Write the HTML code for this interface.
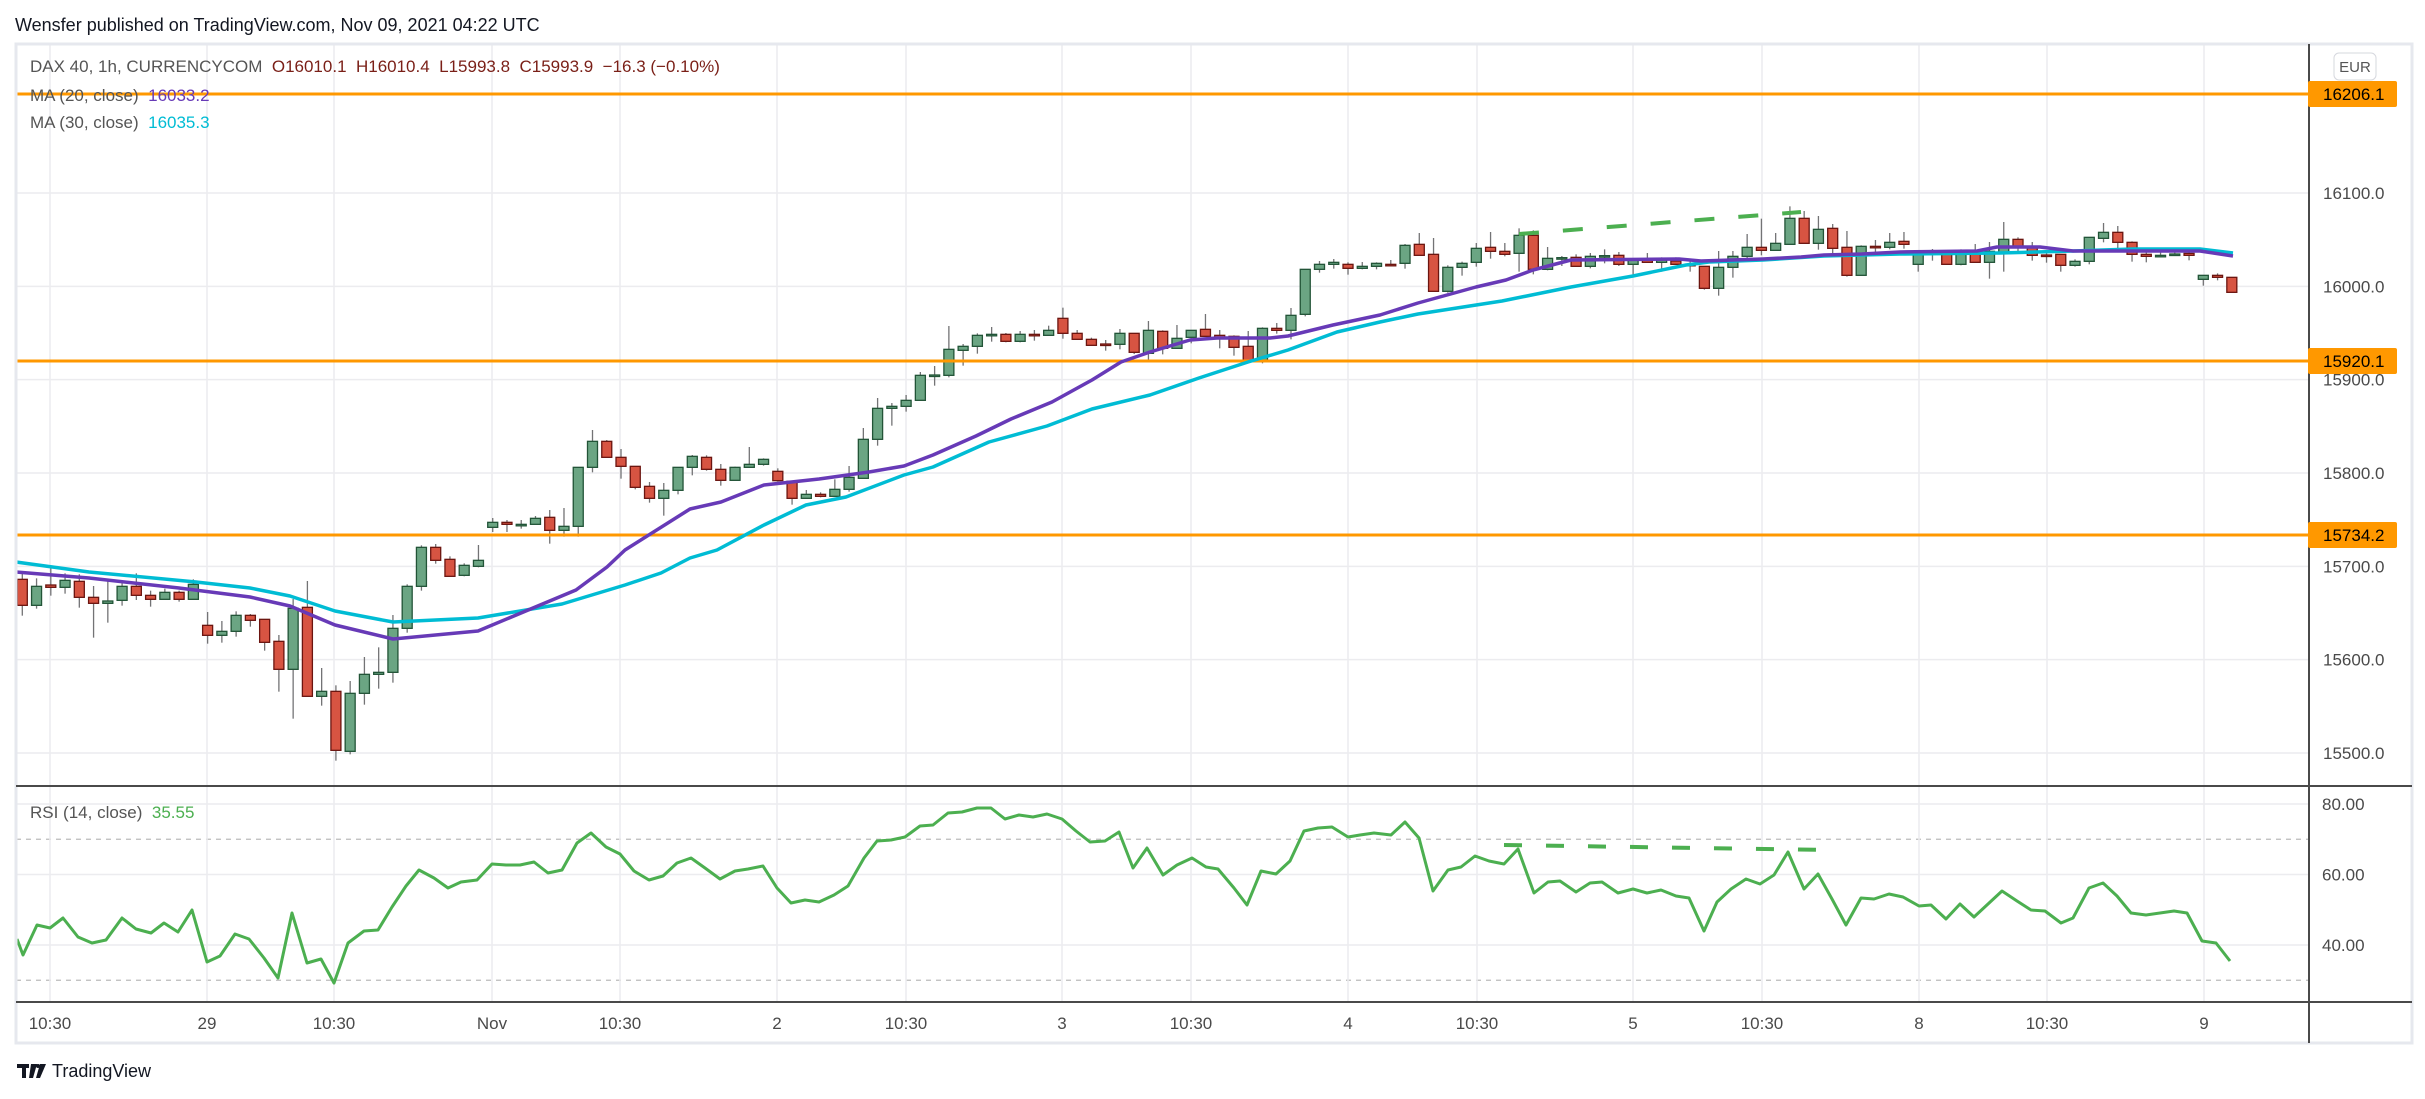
<!DOCTYPE html>
<html><head><meta charset="utf-8"><style>
html,body{margin:0;padding:0;background:#fff;}
svg{display:block;font-family:"Liberation Sans",sans-serif;}
</style></head><body>
<svg id="s" width="2425" height="1099" viewBox="0 0 2425 1099" xmlns="http://www.w3.org/2000/svg">
<rect width="2425" height="1099" fill="#fff"/>
<text x="15" y="31" font-size="18" fill="#131722">Wensfer published on TradingView.com, Nov 09, 2021 04:22 UTC</text>
<g id="grid"></g>
<g id="main"></g>
<!-- frame -->
<rect x="16" y="44" width="2396" height="999" fill="none" stroke="#e6e8ee" stroke-width="3"/>
<line x1="16" y1="786" x2="2412" y2="786" stroke="#4a4a4a" stroke-width="2"/>
<line x1="16" y1="1002" x2="2412" y2="1002" stroke="#4a4a4a" stroke-width="2"/>
<line x1="2309" y1="44" x2="2309" y2="1043" stroke="#4a4a4a" stroke-width="2"/>
<g font-size="17" fill="#555">
<text x="30" y="72" xml:space="preserve"><tspan fill="#555">DAX 40, 1h, CURRENCYCOM  </tspan><tspan fill="#7a1f17">O16010.1  H16010.4  L15993.8  C15993.9  −16.3 (−0.10%)</tspan></text>
<text x="30" y="101" xml:space="preserve">MA (20, close)  <tspan fill="#673ab7">16033.2</tspan></text>
<text x="30" y="128" xml:space="preserve">MA (30, close)  <tspan fill="#00bcd4">16035.3</tspan></text>
<text x="30" y="818" xml:space="preserve">RSI (14, close)  <tspan fill="#4caf50">35.55</tspan></text>
</g>
<g id="axis" font-size="17" fill="#4a4a4a"></g>
<rect x="2334" y="53" width="42" height="27" rx="5" fill="#fff" stroke="#d6d8de"/>
<text x="2355" y="72" font-size="15" fill="#555" text-anchor="middle">EUR</text>
<!-- logo -->
<g fill="#131722">
<rect x="17" y="1064" width="12" height="4"/><rect x="22" y="1064" width="4" height="14"/>
<path d="M31 1064 h6 l-4 14 h-4 z"/><circle cx="38" cy="1066" r="2"/><path d="M40 1064 h6 l-6 14 h-4 z"/>
<text x="52" y="1077" font-size="18">TradingView</text>
</g>
</svg>
<script>
const NS="http://www.w3.org/2000/svg";
function el(p,t,a,txt){const e=document.createElementNS(NS,t);for(const k in a)e.setAttribute(k,a[k]);if(txt!==undefined)e.textContent=txt;p.appendChild(e);return e;}
const grid=document.getElementById('grid'),main=document.getElementById('main'),axis=document.getElementById('axis');
const py=p=>193+(16100-p)*0.9333;
// horizontal grids
[16100,16000,15900,15800,15700,15600,15500].forEach(p=>{el(grid,'line',{x1:16,x2:2309,y1:py(p),y2:py(p),stroke:'#ececef','stroke-width':1.5});});
const ry=r=>804+(80-r)*3.525;
[80,60,40].forEach(r=>el(grid,'line',{x1:16,x2:2309,y1:ry(r),y2:ry(r),stroke:'#ececef','stroke-width':1.5}));
[70,30].forEach(r=>el(grid,'line',{x1:16,x2:2309,y1:ry(r),y2:ry(r),stroke:'#bbb','stroke-width':1.2,'stroke-dasharray':'5 5'}));
const vx=[50,207,334,492,620,777,906,1062,1191,1348,1477,1633,1762,1919,2047,2204];
const vl=['10:30','29','10:30','Nov','10:30','2','10:30','3','10:30','4','10:30','5','10:30','8','10:30','9'];
vx.forEach((x,i)=>{el(grid,'line',{x1:x,x2:x,y1:44,y2:1002,stroke:'#ececef','stroke-width':1.5});
 el(axis,'text',{x:x,y:1029,'text-anchor':'middle'},vl[i]);});
[[16100,'16100.0'],[16000,'16000.0'],[15900,'15900.0'],[15800,'15800.0'],[15700,'15700.0'],[15600,'15600.0'],[15500,'15500.0']].forEach(([p,t])=>el(axis,'text',{x:2323,y:py(p)+6},t));
[[80,'80.00'],[60,'60.00'],[40,'40.00']].forEach(([r,t])=>el(axis,'text',{x:2322,y:ry(r)+6},t));
// candles
const A=[[478,556,460,587,'R'],[499,556,475,566,'G'],[495,502,440,527,'R'],[481,502,460,521,'G'],[484,532,463,563,'R'],[532,550,498,653,'R'],[543,550,477,608,'G'],[499,541,480,557,'G'],[499,526,460,540,'R'],[526,538,512,560,'R'],[517,538,506,538,'G'],[517,538,512,545,'R'],[493,538,478,538,'G'],[616,646,576,671,'R'],[634,646,603,668,'G'],[586,634,574,650,'G'],[586,601,582,620,'R'],[598,667,598,692,'R'],[664,748,645,815,'R'],[565,748,537,896,'G'],[562,829,483,829,'R'],[814,829,744,857,'G'],[814,991,796,1022,'R'],[820,994,783,1003,'G'],[763,820,711,854,'G'],[757,763,682,806,'G'],[625,757,585,788,'G'],[499,625,493,638,'G'],[382,499,376,512,'G'],[382,421,372,431,'R'],[418,469,409,469,'R'],[436,466,430,469,'G'],[421,439,375,442,'G'],[307,322,294,336,'G'],[307,313,300,336,'R'],[313,314,300,326,'G'],[295,313,288,313,'G'],[292,331,270,371,'R'],[319,331,264,350,'G'],[142,319,142,350,'G'],[64,142,30,157,'G'],[64,112,60,112,'R'],[112,139,87,176,'R'],[139,202,139,208,'R'],[199,235,186,248,'R'],[211,235,189,287,'G'],[142,211,142,223,'G'],[109,142,105,166,'G']];
const B=[[772,808,766,812,'R'],[808,841,792,857,'R'],[802,841,800,841,'G'],[793,802,741,802,'G'],[778,793,775,797,'G'],[814,842,805,845,'R'],[844,895,844,914,'R'],[883,895,870,895,'G'],[883,889,877,892,'R'],[868,889,838,889,'G'],[832,868,798,875,'G'],[718,835,684,835,'G'],[625,718,594,737,'G'],[619,625,609,677,'G'],[601,619,585,635,'G'],[526,601,516,601,'G'],[525,527,498,557,'G'],[448,526,378,532,'G'],[439,451,432,497,'G'],[406,439,400,461,'G'],[403,406,381,425,'G'],[403,424,399,427,'R'],[403,424,393,427,'G'],[403,406,390,422,'R'],[391,406,377,406,'G'],[355,400,323,416,'R'],[400,418,390,418,'R'],[418,436,413,436,'R'],[432,434,420,452,'R'],[400,433,387,448,'G'],[400,457,400,462,'R'],[391,460,363,482,'G'],[394,445,391,463,'R'],[415,445,375,445,'G'],[391,412,391,430,'G'],[388,409,342,409,'R'],[406,412,390,445,'R'],[409,442,406,467,'R'],[439,484,393,484,'R'],[385,484,382,490,'G'],[385,391,369,401,'R'],[346,391,324,418,'G'],[208,343,208,349,'G'],[193,208,183,218,'G'],[187,193,177,206,'G'],[193,205,187,224,'R'],[199,205,186,208,'G'],[190,199,187,208,'G']];
const C=[[253,255,240,256,'R'],[196,250,192,266,'G'],[193,226,159,226,'R'],[223,334,174,334,'R'],[262,334,256,338,'G'],[250,262,245,287,'G'],[205,247,189,260,'G'],[202,214,156,236,'R'],[214,223,189,229,'R'],[166,220,145,275,'G'],[166,268,151,283,'R'],[235,268,201,271,'G'],[233,235,228,258,'G'],[232,259,223,259,'R'],[229,259,219,265,'G'],[227,229,208,250,'G'],[226,253,216,258,'R'],[238,253,237,290,'G'],[238,247,219,247,'R'],[240,247,232,275,'G'],[243,253,232,253,'R'],[253,256,244,275,'R'],[259,325,259,329,'R'],[262,325,213,347,'G'],[229,262,213,293,'G'],[202,229,162,235,'G'],[202,211,116,226,'R'],[190,211,159,211,'G'],[115,193,79,193,'G'],[115,190,93,190,'R'],[148,190,108,209,'G'],[145,205,132,220,'R'],[202,286,153,290,'R'],[199,286,196,286,'G'],[199,202,180,220,'R'],[187,202,159,208,'G'],[184,193,156,206,'R'],
[220,253,220,275,'G'],[217,220,207,242,'G'],[217,253,217,253,'R'],[214,253,208,256,'G'],[214,247,192,247,'R'],[214,247,186,296,'G'],[178,217,126,275,'G'],[178,199,172,220,'R'],[199,226,186,242,'R'],[225,227,214,248,'R'],[223,256,223,275,'R'],[244,256,238,260,'G'],[172,244,172,253,'G'],[157,175,129,187,'G'],[157,187,138,212,'R'],[187,223,184,245,'R'],[223,229,214,247,'R'],[226,229,204,232,'G'],[222,223,204,222,'G'],[220,226,204,241,'R'],[286,298,286,317,'G'],[286,292,280,301,'R'],[292,337,292,337,'R']];
const all=[];A.forEach(c=>all.push([c,420]));B.forEach(c=>all.push([c,200]));C.forEach(c=>all.push([c,180]));
const cg=el(main,'g',{});
all.forEach(([c,off],i)=>{
 const x=22.3+i*14.255;const t=off+c[0]/3,b=off+c[1]/3,wt=off+c[2]/3,wb=off+c[3]/3;
 el(cg,'line',{x1:x,x2:x,y1:wt,y2:wb,stroke:'#737375','stroke-width':1.3});
 const g=c[4]==='G';
 el(cg,'rect',{x:x-5,y:t,width:10,height:Math.max(1.5,b-t),fill:g?'#6ba583':'#d75442',stroke:g?'#225437':'#6b1510','stroke-width':1.3});
});
// orange lines
[94,361,535].forEach(y=>el(main,'line',{x1:16,x2:2309,y1:y,y2:y,stroke:'#ff9800','stroke-width':3}));
// MAs
const cyan=[[16,562],[89,572],[196,582],[250,588],[290,596],[335,611],[393,622],[478,618],[562,604],[625,585],[661,573],[690,558],[717,550],[764,525],[806,505],[846,497],[904,475],[933,467],[989,442],[1047,426],[1092,409],[1150,395],[1199,378],[1248,362],[1288,350],[1337,332],[1380,322],[1418,314],[1502,301],[1571,287],[1633,276],[1686,265],[1709,262],[1763,260],[1824,256],[1900,254],[2000,253],[2073,251],[2133,249],[2200,249],[2233,253]];
const purple=[[16,572],[89,578],[179,588],[250,597],[290,606],[335,625],[393,639],[478,631],[576,590],[607,567],[625,550],[690,509],[721,502],[764,485],[819,479],[869,472],[904,466],[933,455],[976,436],[1011,419],[1052,402],[1092,380],[1121,362],[1150,352],[1190,340],[1217,338],[1270,338],[1288,336],[1333,325],[1380,315],[1418,303],[1476,287],[1506,280],[1533,270],[1571,260],[1679,259],[1701,261],[1763,259],[1801,257],[1824,255],[1862,254],[1900,252],[1977,251],[1997,247],[2040,247],[2073,251],[2133,251],[2200,251],[2233,256]];
const pts=a=>a.map(p=>p.join(',')).join(' ');
el(main,'polyline',{points:pts(cyan),fill:'none',stroke:'#00bcd4','stroke-width':3.5,'stroke-linejoin':'round'});
el(main,'polyline',{points:pts(purple),fill:'none',stroke:'#673ab7','stroke-width':3.5,'stroke-linejoin':'round'});
el(main,'line',{x1:1519,y1:234,x2:1801,y2:212,stroke:'#4caf50','stroke-width':4,'stroke-dasharray':'20 24'});
// RSI
const rsi=[[17,939],[23,955],[37,925],[50,928],[63,918],[78,937],[92,943],[106,940],[122,918],[136,929],[151,933],[164,923],[178,932],[192,910],[207,962],[220,956],[235,934],[249,939],[264,958],[278,978],[292,913],[307,963],[321,959],[334,983],[348,943],[364,931],[378,930],[392,907],[406,886],[419,870],[434,878],[448,888],[461,882],[477,880],[492,864],[506,865],[520,865],[534,862],[548,873],[562,870],[577,843],[591,833],[606,847],[620,854],[634,871],[649,880],[663,876],[677,863],[691,858],[705,868],[720,879],[735,871],[748,869],[763,866],[777,888],[791,903],[805,900],[819,902],[834,895],[848,886],[864,858],[877,841],[891,840],[905,837],[920,826],[933,825],[948,813],[962,812],[977,808],[991,808],[1005,819],[1019,815],[1033,817],[1047,814],[1062,819],[1076,831],[1090,842],[1105,841],[1119,832],[1133,868],[1147,848],[1163,875],[1177,865],[1192,858],[1206,867],[1218,869],[1234,888],[1247,905],[1261,871],[1276,874],[1290,861],[1304,831],[1318,828],[1332,827],[1348,837],[1360,835],[1374,833],[1391,835],[1405,822],[1419,838],[1433,891],[1448,870],[1461,867],[1475,856],[1489,861],[1504,864],[1518,849],[1534,893],[1548,882],[1560,881],[1576,892],[1590,883],[1602,882],[1618,893],[1633,889],[1647,893],[1661,890],[1676,896],[1689,898],[1704,931],[1717,902],[1731,889],[1746,879],[1760,884],[1774,875],[1788,852],[1804,889],[1818,874],[1832,899],[1846,925],[1861,898],[1874,899],[1889,894],[1903,897],[1919,906],[1931,905],[1946,919],[1960,904],[1974,917],[1988,904],[2002,891],[2017,901],[2031,910],[2045,911],[2061,923],[2073,918],[2089,888],[2103,883],[2117,896],[2131,913],[2146,915],[2160,913],[2174,911],[2187,913],[2202,941],[2216,943],[2230,961]];
el(main,'polyline',{points:pts(rsi),fill:'none',stroke:'#4caf50','stroke-width':3,'stroke-linejoin':'round'});
el(main,'line',{x1:1504,y1:845,x2:1830,y2:850,stroke:'#4caf50','stroke-width':4,'stroke-dasharray':'18 24'});
// orange labels
[[94,'16206.1'],[361,'15920.1'],[535,'15734.2']].forEach(([y,t])=>{
 el(axis,'rect',{x:2308,y:y-13,width:89,height:26,rx:2,fill:'#ff9800'});
 el(axis,'text',{x:2323,y:y+6,fill:'#000'},t);
});
</script>
</body></html>
